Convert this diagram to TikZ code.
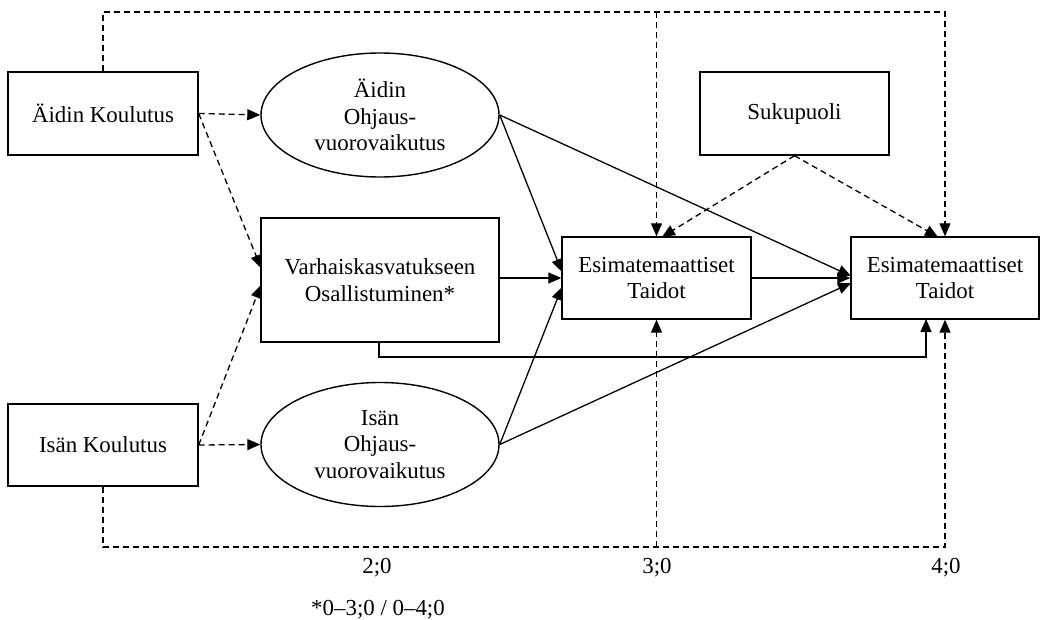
\documentclass[tikz,border=0pt]{standalone}
\usepackage{fontspec}
\setmainfont{Liberation Serif}
\usetikzlibrary{arrows.meta,shapes.geometric}
\begin{document}
\begin{tikzpicture}[x=1pt,y=-1pt,
  every node/.style={font=\fontsize{22.9}{26.5}\selectfont, inner sep=0pt},
  boxnode/.style={draw, line width=1.4pt, rectangle, align=center},
  ovalnode/.style={draw, line width=1.4pt, ellipse, align=center, minimum width=238pt, minimum height=124pt},
  conn/.style={line width=1.3pt, -{Triangle[length=13pt,width=11pt]}},
  dconn/.style={conn, dash pattern=on 6pt off 4pt},
  lbl/.style={inner sep=0pt}
]
\useasboundingbox (0,0) rectangle (1040,620);

% nodes
\node[boxnode, minimum width=190pt, minimum height=83pt] (ak) at (103,113.5) {Äidin Koulutus};
\node[boxnode, minimum width=190pt, minimum height=82pt] (ik) at (103,445) {Isän Koulutus};
\node[ovalnode] (ao) at (380,115) {Äidin\\Ohjaus-\\vuorovaikutus};
\node[ovalnode] (io) at (380,444.5) {Isän\\Ohjaus-\\vuorovaikutus};
\node[boxnode, minimum width=238pt, minimum height=124pt] (vo) at (380,280) {Varhaiskasvatukseen\\Osallistuminen*};
\node[boxnode, minimum width=189pt, minimum height=82pt] (e1) at (656.5,278) {Esimatemaattiset\\Taidot};
\node[boxnode, minimum width=188pt, minimum height=82pt] (e2) at (945,278) {Esimatemaattiset\\Taidot};
\node[boxnode, minimum width=189pt, minimum height=83pt] (su) at (794.5,113.5) {Sukupuoli};

% helper coordinates
\coordinate (topy) at (0,12);
\coordinate (boty) at (0,547);
\coordinate (soly) at (0,357);
\coordinate (vin1) at (261,268);
\coordinate (vin2) at (261,285);
\coordinate (e1in1) at (562,272);
\coordinate (e1in3) at (562,287);
\coordinate (e2in1) at (851,276);
\coordinate (e2in3) at (851,283);
\coordinate (e1top) at (662,237);
\coordinate (e2top) at (938,237);
\coordinate (vbot) at (379,342);
\coordinate (e2bot) at (926,319);

% dashed connectors from education
\draw[dconn] (ak.east) -- (ao.west);
\draw[dconn] (ak.east) -- (vin1);
\draw[dconn] (ik.east) -- (vin2);
\draw[dconn] (ik.east) -- (io.west);

% solid paths
\draw[conn] (ao.east) -- (e1in1);
\draw[conn] (vo.east |- e1) -- (e1.west);
\draw[conn] (io.east) -- (e1in3);
\draw[conn] (e1.east) -- (e2.west);
\draw[conn] (ao.east) -- (e2in1);
\draw[conn] (io.east) -- (e2in3);
\draw[conn] (vbot) -- (vbot |- soly) -- (e2bot |- soly) -- (e2bot);

% Sukupuoli
\draw[dconn] (su.south) -- (e1top);
\draw[dconn] (su.south) -- (e2top);

% top frame
\draw[dconn] (ak.north) |- (e2.north |- topy) -- (e2.north);
\draw[dconn] (e1.north |- topy) -- (e1.north);

% bottom frame
\draw[dconn] (ik.south) |- (e2.south |- boty) -- (e2.south);
\draw[dconn] (e1.south |- boty) -- (e1.south);

% labels
\node[lbl] (l2) at (377,568) {2;0};
\node[lbl] (l3) at (657,568) {3;0};
\node[lbl] (l4) at (946,568) {4;0};
\node[lbl] (fn) at (378,610) {*0–3;0 / 0–4;0};
\end{tikzpicture}
\end{document}
